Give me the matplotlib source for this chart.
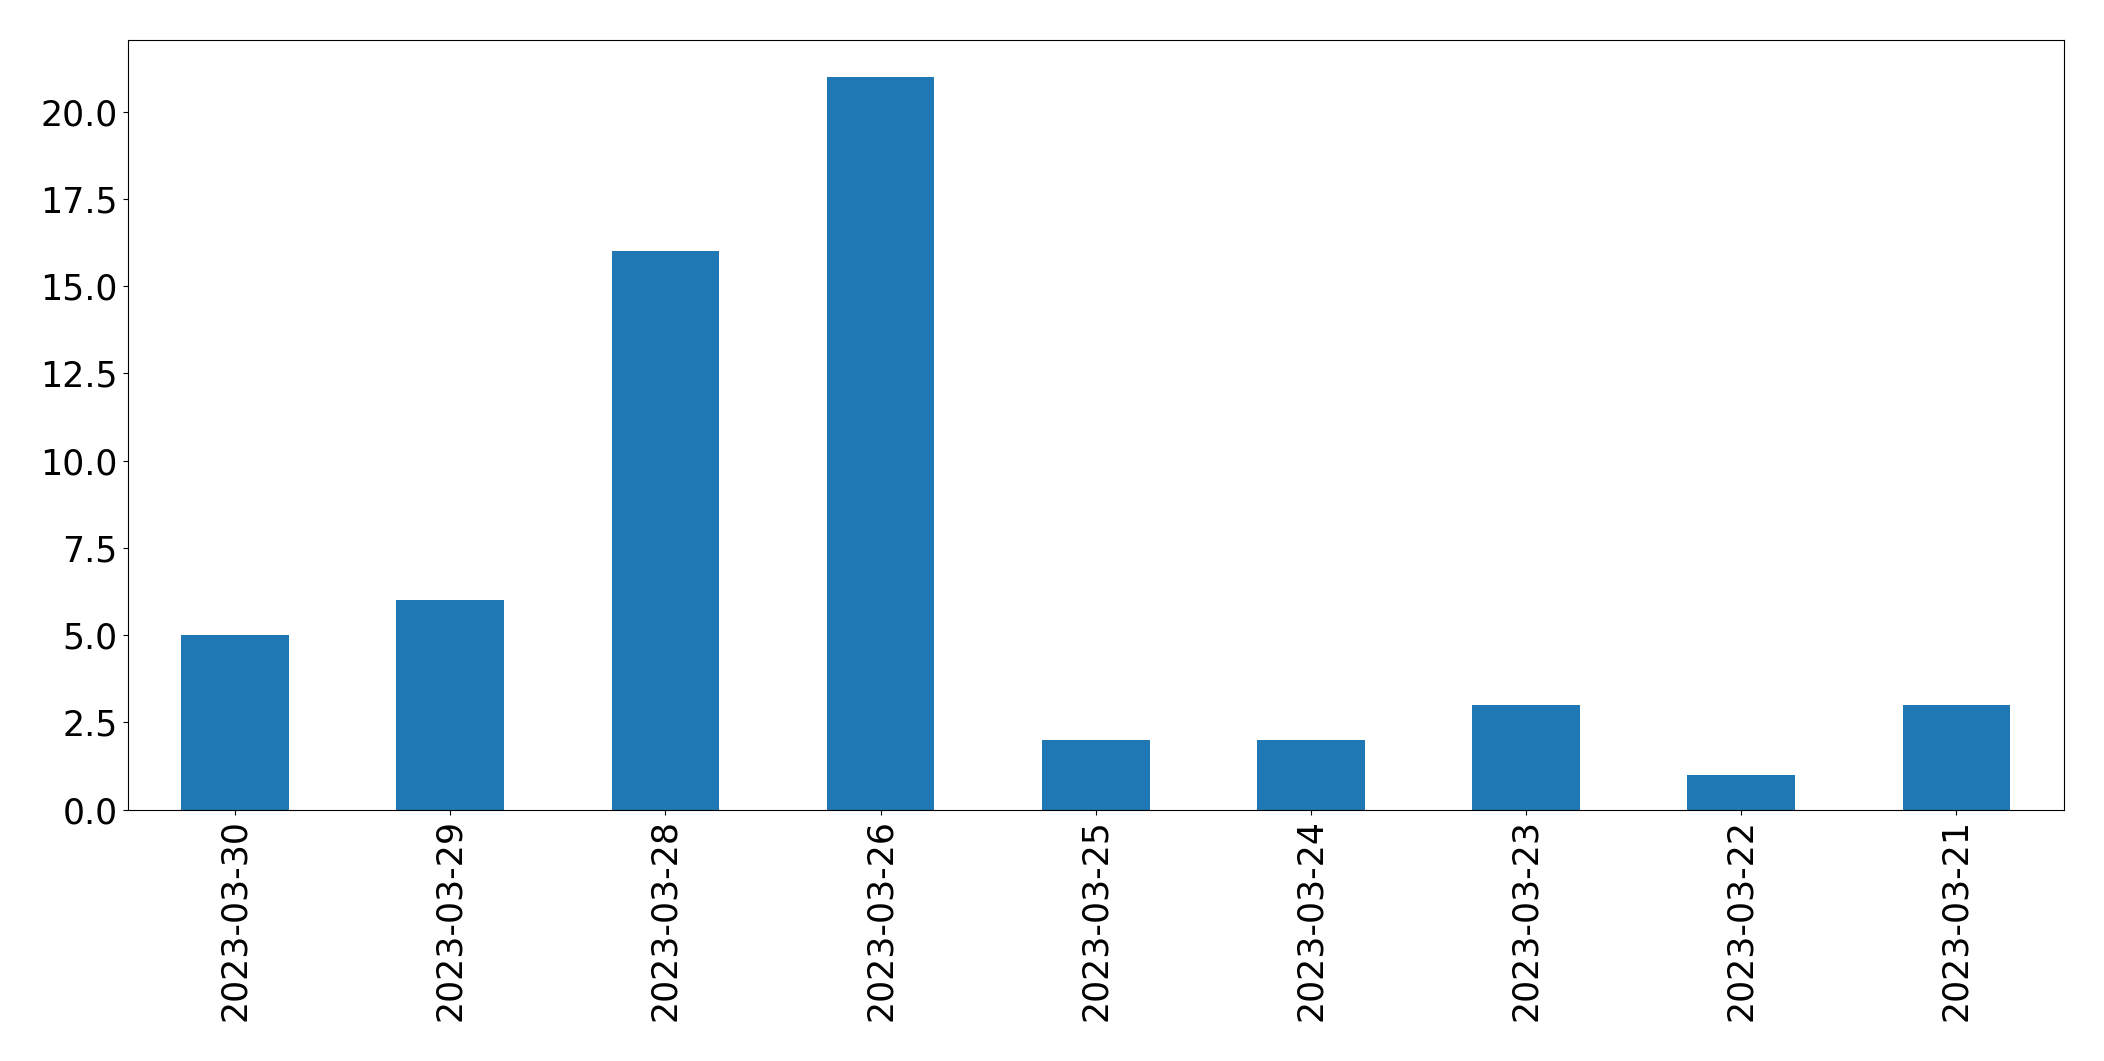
import matplotlib
matplotlib.use("Agg")
import matplotlib.pyplot as plt

dates = ["2023-03-30", "2023-03-29", "2023-03-28", "2023-03-26", "2023-03-25",
         "2023-03-24", "2023-03-23", "2023-03-22", "2023-03-21"]
counts = [5, 6, 16, 21, 2, 2, 3, 1, 3]

fig = plt.figure(figsize=(21.04, 10.61), dpi=100)
ax = fig.add_axes([0.0606, 0.237, 0.9204, 0.725])
x = list(range(len(dates)))
ax.bar(x, counts, width=0.5, color="#1f77b4")
ax.set_xticks(x)
ax.set_xticklabels(dates, rotation=90)
ax.set_xlim(-0.5, len(dates) - 0.5)
ax.tick_params(axis="both", labelsize=25)
fig.savefig("out.png", dpi=100)
